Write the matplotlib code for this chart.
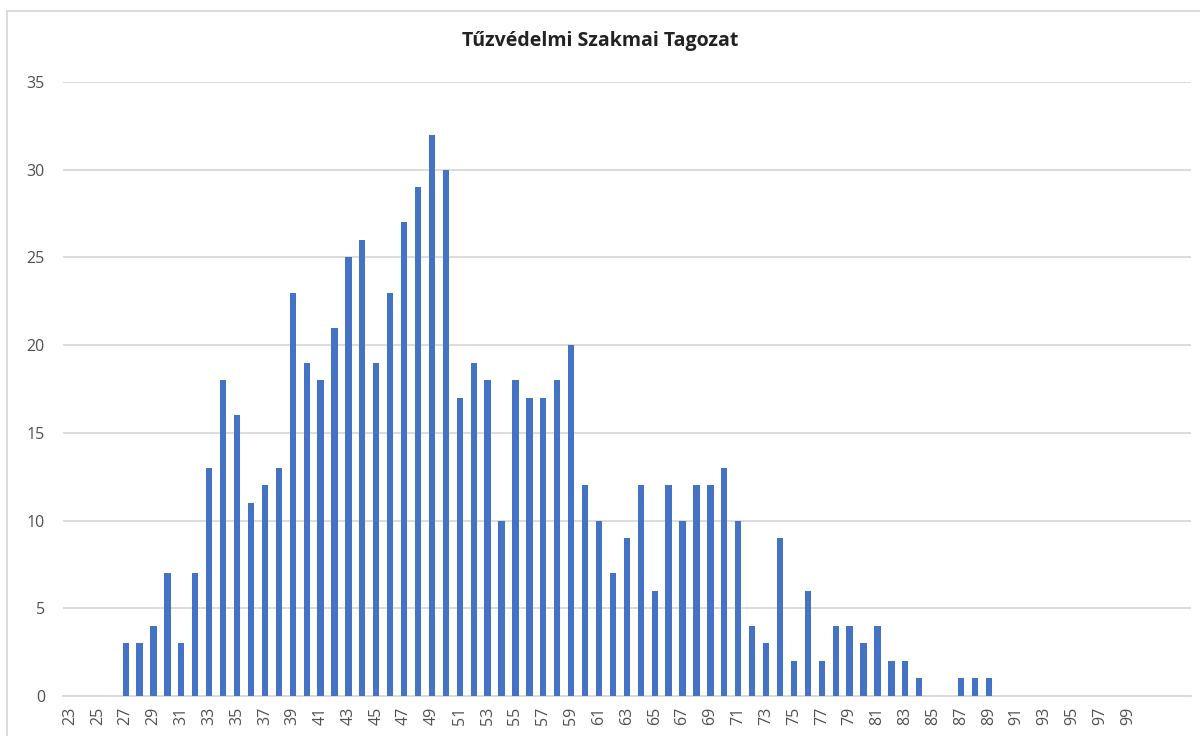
import matplotlib
matplotlib.use("Agg")
import matplotlib.pyplot as plt
from matplotlib.lines import Line2D

title = "Tűzvédelmi Szakmai Tagozat"
ages = list(range(23, 104))
counts = [0, 0, 0, 0, 3, 3, 4, 7, 3, 7,
          13, 18, 16, 11, 12, 13, 23, 19, 18, 21,
          25, 26, 19, 23, 27, 29, 32, 30, 17, 19,
          18, 10, 18, 17, 17, 18, 20, 12, 10, 7,
          9, 12, 6, 12, 10, 12, 12, 13, 10, 4,
          3, 9, 2, 6, 2, 4, 4, 3, 4, 2,
          2, 1, 0, 0, 1, 1, 1, 0, 0, 0,
          0, 0, 0, 0, 0, 0, 0, 0, 0, 0, 0]
tick_labels = [str(a) for a in range(23, 100, 2)]
y_ticks = [0, 5, 10, 15, 20, 25, 30, 35]

plt.rcParams['font.family'] = ['Open Sans', 'DejaVu Sans']

W, H = 1200, 736
fig = plt.figure(figsize=(W / 100, H / 100), dpi=100)
ax = fig.add_axes([63 / W, 1 - 696 / H, (1190.7 - 63) / W, (696 - 82) / H])

grid_c = '#d9d9d9'
ax.bar(ages, counts, width=0.45, color='#4472C4', zorder=3)
ax.set_xlim(22.5, 103.5)
ax.set_ylim(0, 35)
ax.set_yticks(y_ticks)
ax.set_yticklabels([str(v) for v in y_ticks])
ax.yaxis.grid(True, color=grid_c, linewidth=1.3, zorder=0)
ax.set_xticks([int(t) for t in tick_labels])
ax.set_xticklabels(tick_labels, rotation=90)
for s in ['top', 'right', 'left']:
    ax.spines[s].set_visible(False)
ax.spines['bottom'].set_color(grid_c)
ax.spines['bottom'].set_linewidth(1.3)
ax.tick_params(axis='both', length=0, colors='#505050', labelsize=11.5)
ax.tick_params(axis='y', pad=13)
ax.tick_params(axis='x', pad=8)

fig.text(600 / W, 1 - 41 / H, title, ha='center', va='center',
         fontsize=14, fontweight='bold', color='#222222')

# chart border (partially cropped in reference)
fig.add_artist(Line2D([7 / W, 7 / W], [0, 1 - 11 / H], transform=fig.transFigure,
                      color=grid_c, linewidth=1.3))
fig.add_artist(Line2D([7 / W, 1], [1 - 11 / H, 1 - 11 / H], transform=fig.transFigure,
                      color=grid_c, linewidth=1.3))

fig.savefig('out.png', dpi=100)
